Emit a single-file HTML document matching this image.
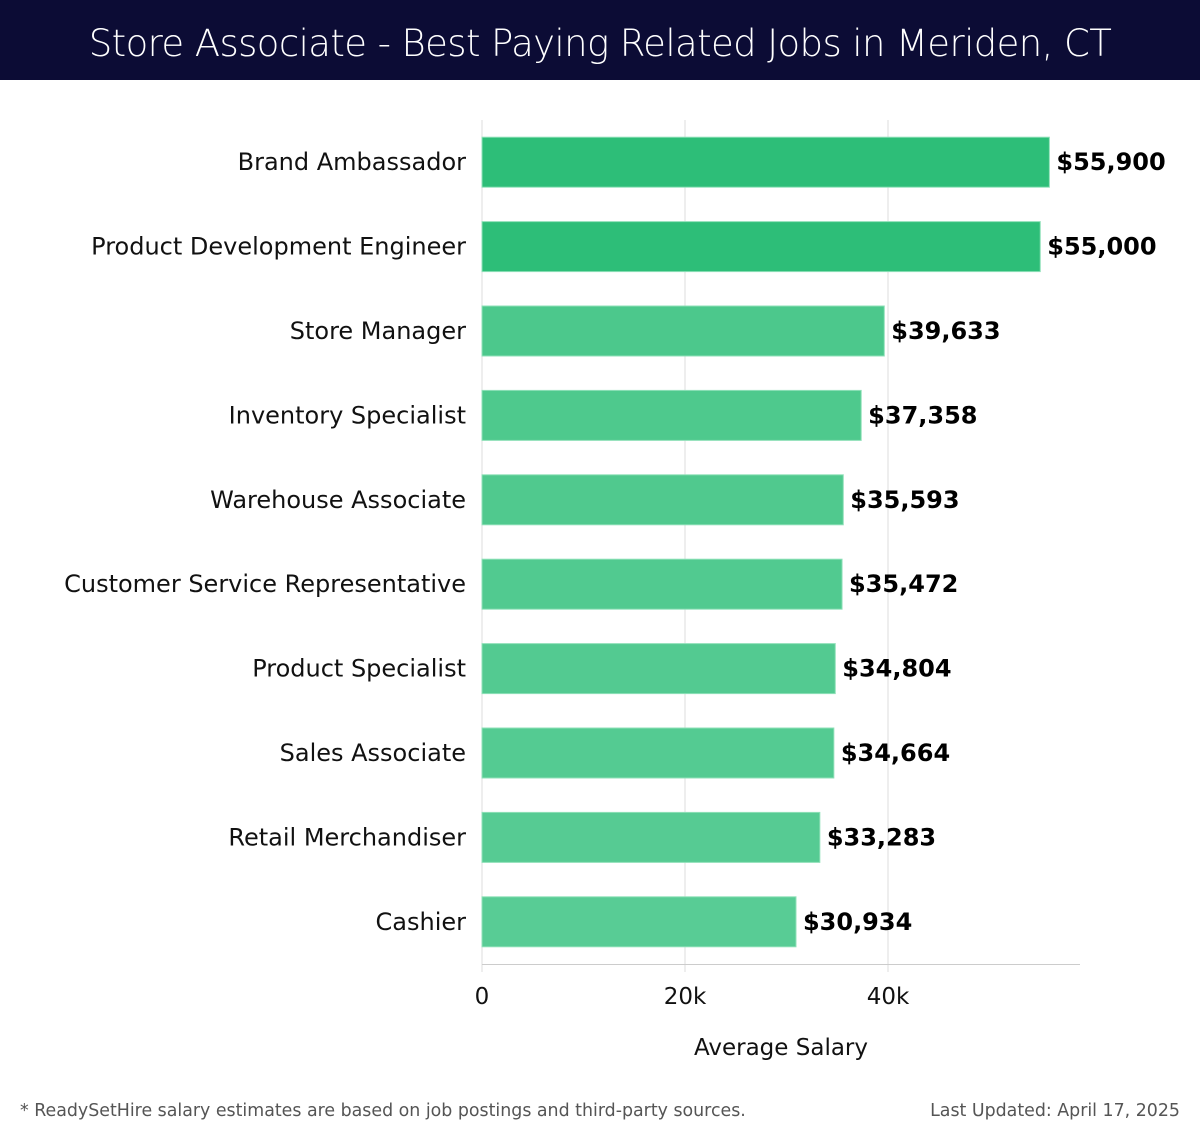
<!DOCTYPE html>
<html><head><meta charset="utf-8"><style>
body{margin:0;width:1200px;height:1140px;background:#fff;overflow:hidden;font-family:"DejaVu Sans","Liberation Sans",sans-serif;}
#hdr{position:absolute;left:0;top:0;width:1200px;height:80px;background:#0c0c35;color:#fff;font-size:37px;text-align:center;line-height:88px;font-family:"DejaVu Sans","Liberation Sans",sans-serif;font-weight:300;letter-spacing:-0.6px}
.foot{position:absolute;top:1101px;font-size:17.4px;color:#555;}
</style></head><body>
<div id="hdr">Store Associate - Best Paying Related Jobs in Meriden, CT</div>
<svg id="chart" width="1200" height="1140" style="position:absolute;left:0;top:0"></svg>
<div class="foot" style="left:20px">* ReadySetHire salary estimates are based on job postings and third-party sources.</div>
<div class="foot" style="right:20px">Last Updated: April 17, 2025</div>
<script>
const categories=["Brand Ambassador","Product Development Engineer","Store Manager","Inventory Specialist","Warehouse Associate","Customer Service Representative","Product Specialist","Sales Associate","Retail Merchandiser","Cashier"];
const values=[55900,55000,39633,37358,35593,35472,34804,34664,33283,30934];
const valueLabels=["$55,900","$55,000","$39,633","$37,358","$35,593","$35,472","$34,804","$34,664","$33,283","$30,934"];
const ticks=[0,20000,40000];
const tickLabels=["0","20k","40k"];
const colors=["#2dbe78","#2dbe78","#4cc88c","#4ec98d","#50c98e","#51ca90","#53ca91","#54cb92","#56cb93","#58cc95"];
const svg=document.getElementById('chart');
const NS="http://www.w3.org/2000/svg";
const x0=482,pxPer=203/20000,y0=120,band=84.4,bh=50;
const xs=v=>x0+v*pxPer;
const yc=i=>y0+band*(i+0.5);
function mk(t,a){const e=document.createElementNS(NS,t);for(const k in a)e.setAttribute(k,a[k]);svg.appendChild(e);return e;}
ticks.forEach((t,i)=>{
 const g=mk('line',{x1:xs(t),x2:xs(t),y1:120,y2:972,stroke:'#ddd','stroke-width':1});
 
 
 const l=mk('text',{x:xs(t),y:1004,'text-anchor':'middle','font-size':23,fill:'#111'});
 l.textContent=tickLabels[i];
 
 
});
const ax=mk('line',{x1:x0,x2:1080,y1:964.5,y2:964.5,stroke:'#ccc','stroke-width':1});


categories.forEach((c,i)=>{
 const r=mk('rect',{x:x0,y:yc(i)-bh/2,width:xs(values[i])-x0,height:bh,fill:colors[i],stroke:'#8fe0b8','stroke-width':1});
 
 
 const t=mk('text',{x:466,y:yc(i)+8,'text-anchor':'end','font-size':24,fill:'#111'});
 t.textContent=c;
 
 
 const v=mk('text',{x:xs(values[i])+7,y:yc(i)+8,'font-size':24,'font-weight':'bold',fill:'#000'});
 v.textContent=valueLabels[i];
 
 
});
const at=mk('text',{x:781,y:1055,'text-anchor':'middle','font-size':23,fill:'#111'});
at.textContent="Average Salary";


</script>
</body></html>
